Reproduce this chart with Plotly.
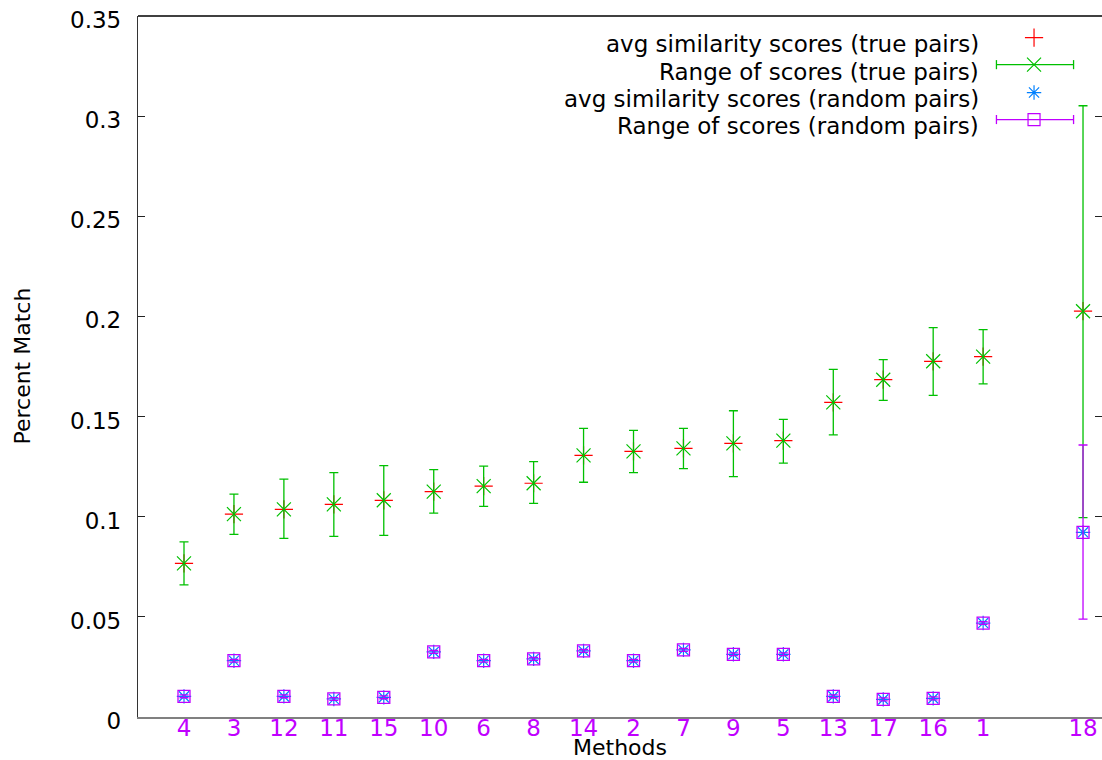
import plotly.graph_objects as go

# ---- data ----
methods = ["4", "3", "12", "11", "15", "10", "6", "8", "14", "2", "7", "9", "5", "13", "17", "16", "1", "18"]
x_index = [1, 2, 3, 4, 5, 6, 7, 8, 9, 10, 11, 12, 13, 14, 15, 16, 17, 19]

true_avg = [0.0767, 0.1013, 0.1037, 0.1062, 0.1082, 0.1125, 0.1153, 0.1167, 0.1306, 0.1326,
            0.1341, 0.1366, 0.1380, 0.1571, 0.1684, 0.1776, 0.1799, 0.2026]
true_max = [0.0874, 0.1113, 0.1188, 0.1220, 0.1255, 0.1235, 0.1253, 0.1275, 0.1441, 0.1431,
            0.1441, 0.1529, 0.1486, 0.1736, 0.1784, 0.1944, 0.1934, 0.3052]
true_min = [0.0660, 0.0912, 0.0892, 0.0902, 0.0907, 0.1018, 0.1052, 0.1067, 0.1172, 0.1220,
            0.1240, 0.1200, 0.1268, 0.1409, 0.1581, 0.1606, 0.1663, 0.0995]

rand_avg = [0.0103, 0.0281, 0.0103, 0.0090, 0.0098, 0.0325, 0.0281, 0.0290, 0.0330, 0.0281,
            0.0335, 0.0313, 0.0313, 0.0103, 0.0088, 0.0093, 0.0469, 0.0922]
rand_max = [0.0110, 0.0288, 0.0110, 0.0097, 0.0105, 0.0332, 0.0288, 0.0297, 0.0337, 0.0288,
            0.0342, 0.0320, 0.0320, 0.0110, 0.0095, 0.0100, 0.0476, 0.1358]
rand_min = [0.0096, 0.0274, 0.0096, 0.0083, 0.0091, 0.0318, 0.0274, 0.0283, 0.0323, 0.0274,
            0.0328, 0.0306, 0.0306, 0.0096, 0.0081, 0.0086, 0.0462, 0.0489]

y_ticks = [0, 0.05, 0.1, 0.15, 0.2, 0.25, 0.3, 0.35]
y_tick_text = ["0", "0.05", "0.1", "0.15", "0.2", "0.25", "0.3", "0.35"]

legend_names = ["avg similarity scores (true pairs)", "Range of scores (true pairs)",
                "avg similarity scores (random pairs)", "Range of scores (random pairs)"]

RED, GREEN, BLUE, PURPLE = "#ff0000", "#00c000", "#0080ff", "#c000ff"
FONT = "DejaVu Sans"

fig = go.Figure()

fig.add_trace(go.Scatter(
    x=x_index, y=true_avg, mode="markers", name=legend_names[0], showlegend=False,
    marker=dict(symbol="cross-thin-open", size=13, color=RED, line=dict(color=RED, width=1.2))))

fig.add_trace(go.Scatter(
    x=x_index, y=true_avg, mode="markers", name=legend_names[1], showlegend=False,
    marker=dict(symbol="x-thin-open", size=14, color=GREEN, line=dict(color=GREEN, width=1.2)),
    error_y=dict(type="data", symmetric=False,
                 array=[h - a for h, a in zip(true_max, true_avg)],
                 arrayminus=[a - l for a, l in zip(true_avg, true_min)],
                 color=GREEN, thickness=1.3, width=4.5)))

fig.add_trace(go.Scatter(
    x=x_index, y=rand_avg, mode="markers", name=legend_names[2], showlegend=False,
    marker=dict(symbol="asterisk-open", size=12, color=BLUE, line=dict(color=BLUE, width=1.2))))

fig.add_trace(go.Scatter(
    x=x_index, y=rand_avg, mode="markers", name=legend_names[3], showlegend=False,
    marker=dict(symbol="square-open", size=12, color=PURPLE, line=dict(color=PURPLE, width=1.3)),
    error_y=dict(type="data", symmetric=False,
                 array=[h - a for h, a in zip(rand_max, rand_avg)],
                 arrayminus=[a - l for a, l in zip(rand_avg, rand_min)],
                 color=PURPLE, thickness=1.3, width=4.5)))

# ---- gnuplot-style key (text on the left, sample on the right) ----
key_rows = [0.9691, 0.9306, 0.8908, 0.8523]   # fraction of plot height for each key row
text_rows = [0.9607, 0.9207, 0.8822, 0.8437]
key_x_text = 0.874
key_x_sym = 0.9295
key_x0, key_x1 = 0.8905, 0.9705
samples = [("cross-thin-open", 13, RED), ("x-thin-open", 14, GREEN),
           ("asterisk-open", 12, BLUE), ("square-open", 12, PURPLE)]
for i, (name, (sym, sz, col)) in enumerate(zip(legend_names, samples)):
    fig.add_annotation(xref="paper", yref="paper", x=key_x_text, y=text_rows[i],
                       xanchor="right", yanchor="middle", text=name, showarrow=False,
                       font=dict(family=FONT, size=23, color="black"))
    fig.add_trace(go.Scatter(x=[key_x_sym], y=[key_rows[i]], xaxis="x2", yaxis="y2",
                             mode="markers", showlegend=False, hoverinfo="skip",
                             marker=dict(symbol=sym, size=sz, color=col,
                                         line=dict(color=col, width=1.2))))
    if i in (1, 3):
        fig.add_shape(type="line", xref="paper", yref="paper", x0=key_x0, x1=key_x1,
                      y0=key_rows[i], y1=key_rows[i], line=dict(color=col, width=1.3))
        for xe in (key_x0, key_x1):
            fig.add_shape(type="line", xref="paper", yref="paper", x0=xe, x1=xe,
                          y0=key_rows[i] - 0.0065, y1=key_rows[i] + 0.0065,
                          line=dict(color=col, width=1.3))

# top border
fig.add_shape(type="line", xref="paper", yref="paper", x0=0, x1=1, y0=1, y1=1,
              line=dict(color="black", width=1.3))

fig.update_layout(
    width=1102, height=760,
    margin=dict(l=138, r=0, t=16, b=43, autoexpand=False),
    plot_bgcolor="white", paper_bgcolor="white",
    font=dict(family=FONT, size=23, color="black"),
    xaxis=dict(range=[0.079, 19.38], tickmode="array", tickvals=x_index, ticktext=methods,
               tickfont=dict(color=PURPLE, size=23, family=FONT), ticks="",
               showgrid=False, zeroline=False, showline=True, linecolor="#808080",
               linewidth=1.5, mirror=False, automargin=False, ticklabelstandoff=-10,
               ticklabeloverflow="allow"),
    yaxis=dict(range=[0, 0.35], tickmode="array", tickvals=y_ticks, ticktext=y_tick_text,
               ticks="inside", ticklen=7, tickcolor="#222", tickwidth=1.2,
               showgrid=False, zeroline=False, showline=True, linecolor="#333",
               linewidth=1.3, mirror="ticks", ticklabelstandoff=11, ticklabelshift=4,
               automargin=False, ticklabeloverflow="allow",
               tickfont=dict(size=23, family=FONT, color="black")),
    xaxis2=dict(overlaying="x", range=[0, 1], visible=False),
    yaxis2=dict(overlaying="y", range=[0, 1], visible=False),
    showlegend=False,
)

fig.add_annotation(xref="paper", yref="paper", x=0.5, y=-0.044, yanchor="middle",
                   xanchor="center", text="Methods", showarrow=False,
                   font=dict(family=FONT, size=22, color="black"))
fig.add_annotation(xref="paper", yref="paper", x=-0.1203, y=0.5, xanchor="center",
                   yanchor="middle", text="Percent Match", textangle=-90, showarrow=False,
                   font=dict(family=FONT, size=22, color="black"))

# remove the default page margin so the figure sits at the window's top-left corner
fig.write_html("out.html", config={"displayModeBar": False},
               post_script="document.body.style.margin='0px';document.body.style.overflow='hidden';")
